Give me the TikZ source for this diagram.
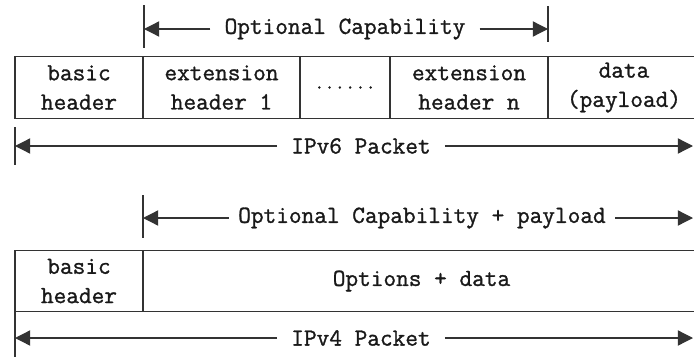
\documentclass[tikz,border=0pt]{standalone}
\usepackage{fontspec}
\newfontfamily\pktfont{Latin Modern Mono}[FakeBold=1.2]
\usetikzlibrary{arrows.meta,positioning}

\begin{document}
\begin{tikzpicture}[x=0.03cm, y=-0.03cm,
  every node/.style={font=\fontsize{21}{25}\selectfont\pktfont, text=black!90},
  cell/.style={draw=black!80, line width=1.1pt, inner sep=0pt, align=center, minimum height=1.85cm},
  span/.style={inner xsep=12pt, inner ysep=0pt},
  arr/.style={draw=black!80, line width=1.1pt, -{Triangle[length=13pt, width=13pt]}},
  tick/.style={draw=black!80, line width=1.1pt}]
\useasboundingbox (0,0) rectangle (694,357);

% IPv6
\coordinate (capL) at (144,29);
\coordinate (capR) at (548,29);
\draw [tick] (144,5) -- (144,48);
\draw [tick] (548,6) -- (548,42);
\node [span] (cap6) at (345,29) {Optional Capability};
\draw [arr] (cap6) -- (capL);
\draw [arr] (cap6) -- (capR);

\node [cell, minimum width=3.84cm] (basic6) at (79,87.5) {basic\\header};
\node [cell, minimum width=4.71cm] (ext1) at (221.5,87.5) {extension\\header 1};
\node [cell, minimum width=2.70cm, font=\fontsize{17}{19}\selectfont\pktfont] (dots) at (345,87.5) {......};
\node [cell, minimum width=4.74cm] (extn) at (469,87.5) {extension\\header n};
\node [cell, minimum width=4.56cm] (data6) at (624,87.5) {data\\(payload)};

\coordinate (v6L) at (15,146);
\coordinate (v6R) at (693,146);
\draw [tick] (15,127) -- (15,165);
\node [span] (pkt6) at (361,146) {IPv6 Packet};
\draw [arr] (pkt6) -- (v6L);
\draw [arr] (pkt6) -- (v6R);

% IPv4
\coordinate (optL) at (143,218);
\coordinate (optR) at (693,218);
\draw [tick] (143,195) -- (143,238);
\node [span, inner xsep=8pt] (cap4) at (422,218) {Optional Capability + payload};
\draw [arr] (cap4) -- (optL);
\draw [arr] (cap4) -- (optR);

\node [cell, minimum width=3.84cm] (basic4) at (79,281) {basic\\header};
\node [cell, minimum width=16.71cm] (opts) at (421.5,281) {Options + data};

\coordinate (v4L) at (15,338);
\coordinate (v4R) at (693,338);
\draw [tick] (15,310) -- (15,357);
\node [span] (pkt4) at (361,338) {IPv4 Packet};
\draw [arr] (pkt4) -- (v4L);
\draw [arr] (pkt4) -- (v4R);

\end{tikzpicture}
\end{document}
